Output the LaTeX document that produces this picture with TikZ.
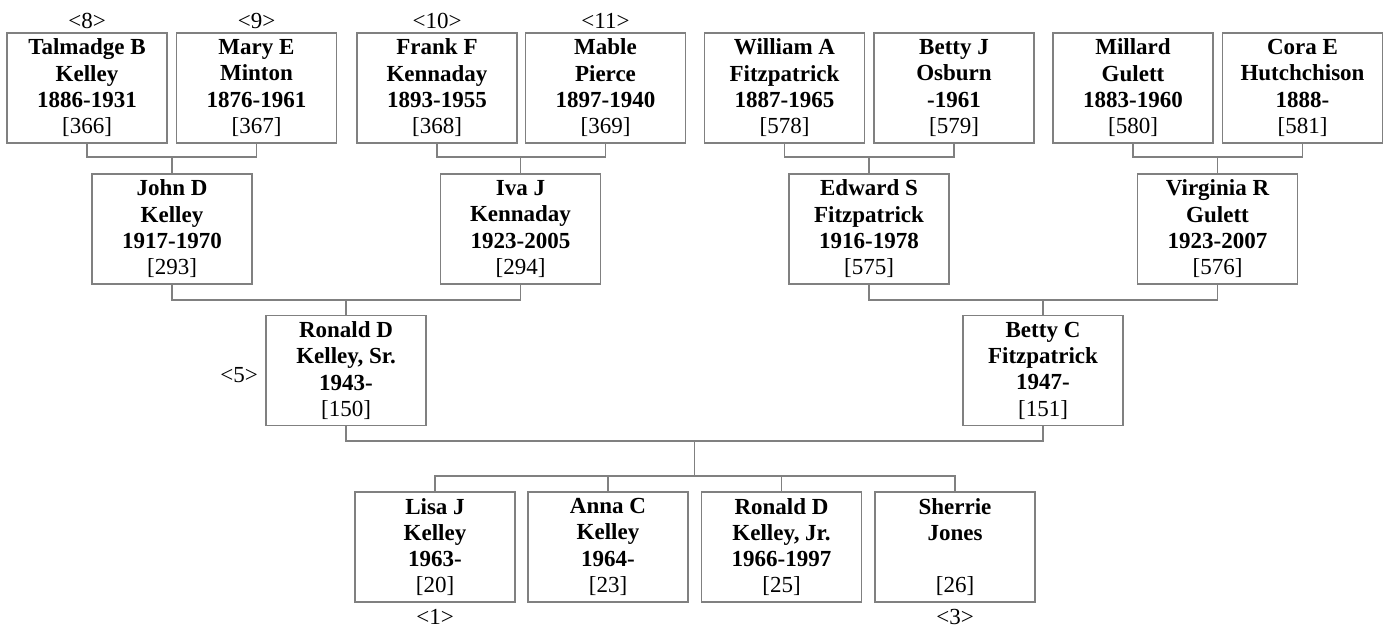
\documentclass[tikz,border=0pt]{standalone}
\usepackage{fontspec}
\setmainfont{Liberation Serif}
\definecolor{lineg}{RGB}{128,128,128}
\tikzset{
  person/.style={draw=lineg, line width=1.2pt, minimum width=160pt, minimum height=110pt,
    inner sep=0pt, align=center, font=\fontsize{23}{26.3}\selectfont\bfseries},
  tag/.style={inner sep=0pt, font=\fontsize{23}{26}\selectfont},
  conn/.style={draw=lineg, line width=1.2pt},
}
\newcommand\pid[1]{\mdseries[#1]}
\begin{document}
\begin{tikzpicture}[x=1pt,y=-1pt]
\useasboundingbox (0,0) rectangle (1388,627);
% great-grandparents
\node[person] (b366) at (87,88)     {Talmadge B\\Kelley\\1886-1931\\\pid{366}};
\node[person] (b367) at (256.5,88)  {Mary E\\Minton\\1876-1961\\\pid{367}};
\node[person] (b368) at (437,88)    {Frank F\\Kennaday\\1893-1955\\\pid{368}};
\node[person] (b369) at (605.5,88)  {Mable\\Pierce\\1897-1940\\\pid{369}};
\node[person] (b578) at (784.5,88)  {William A\\Fitzpatrick\\1887-1965\\\pid{578}};
\node[person] (b579) at (954,88)    {Betty J\\Osburn\\-1961\\\pid{579}};
\node[person] (b580) at (1133,88)   {Millard\\Gulett\\1883-1960\\\pid{580}};
\node[person] (b581) at (1302.5,88) {Cora E\\Hutchchison\\1888-\\\pid{581}};
% grandparents
\node[person] (b293) at (172,229)    {John D\\Kelley\\1917-1970\\\pid{293}};
\node[person] (b294) at (520.5,229)  {Iva J\\Kennaday\\1923-2005\\\pid{294}};
\node[person] (b575) at (869,229)    {Edward S\\Fitzpatrick\\1916-1978\\\pid{575}};
\node[person] (b576) at (1217.5,229) {Virginia R\\Gulett\\1923-2007\\\pid{576}};
% parents
\node[person] (b150) at (346,370.5)  {Ronald D\\Kelley, Sr.\\1943-\\\pid{150}};
\node[person] (b151) at (1043,370.5) {Betty C\\Fitzpatrick\\1947-\\\pid{151}};
% children
\node[person] (b20) at (435,547)   {Lisa J\\Kelley\\1963-\\\pid{20}};
\node[person] (b23) at (608,547)   {Anna C\\Kelley\\1964-\\\pid{23}};
\node[person] (b25) at (781.5,547) {Ronald D\\Kelley, Jr.\\1966-1997\\\pid{25}};
\node[person] (b26) at (955,547)   {Sherrie\\Jones\\\mbox{}\\\pid{26}};
% tags
\node[tag] (t8)  at (87,21)    {<8>};
\node[tag] (t9)  at (256.5,21) {<9>};
\node[tag] (t10) at (437,21)   {<10>};
\node[tag] (t11) at (605.5,21) {<11>};
\node[tag] (t5)  at (239,375)  {<5>};
\node[tag] (t1)  at (435,616.5)  {<1>};
\node[tag] (t3)  at (955,616.5)  {<3>};
% connectors
\coordinate (j293) at (172,157);
\coordinate (j294) at (520.5,157);
\coordinate (j575) at (869,157);
\coordinate (j576) at (1217.5,157);
\draw[conn] (b366.south) |- (j293) -| (b367.south);
\draw[conn] (j293) -- (b293.north);
\draw[conn] (b368.south) |- (j294) -| (b369.south);
\draw[conn] (j294) -- (b294.north);
\draw[conn] (b578.south) |- (j575) -| (b579.south);
\draw[conn] (j575) -- (b575.north);
\draw[conn] (b580.south) |- (j576) -| (b581.south);
\draw[conn] (j576) -- (b576.north);
\coordinate (j150) at (346,300);
\coordinate (j151) at (1043,300);
\draw[conn] (b293.south) |- (j150) -| (b294.south);
\draw[conn] (j150) -- (b150.north);
\draw[conn] (b575.south) |- (j151) -| (b576.south);
\draw[conn] (j151) -- (b151.north);
\coordinate (jc) at (694.5,441);
\coordinate (kc) at (694.5,476);
\draw[conn] (b150.south) |- (jc) -| (b151.south);
\draw[conn] (jc) -- (kc);
\draw[conn] (b20.north) |- (kc) -| (b26.north);
\draw[conn] (b23.north) -- (b23.north |- kc);
\draw[conn] (b25.north) -- (b25.north |- kc);
\end{tikzpicture}
\end{document}
